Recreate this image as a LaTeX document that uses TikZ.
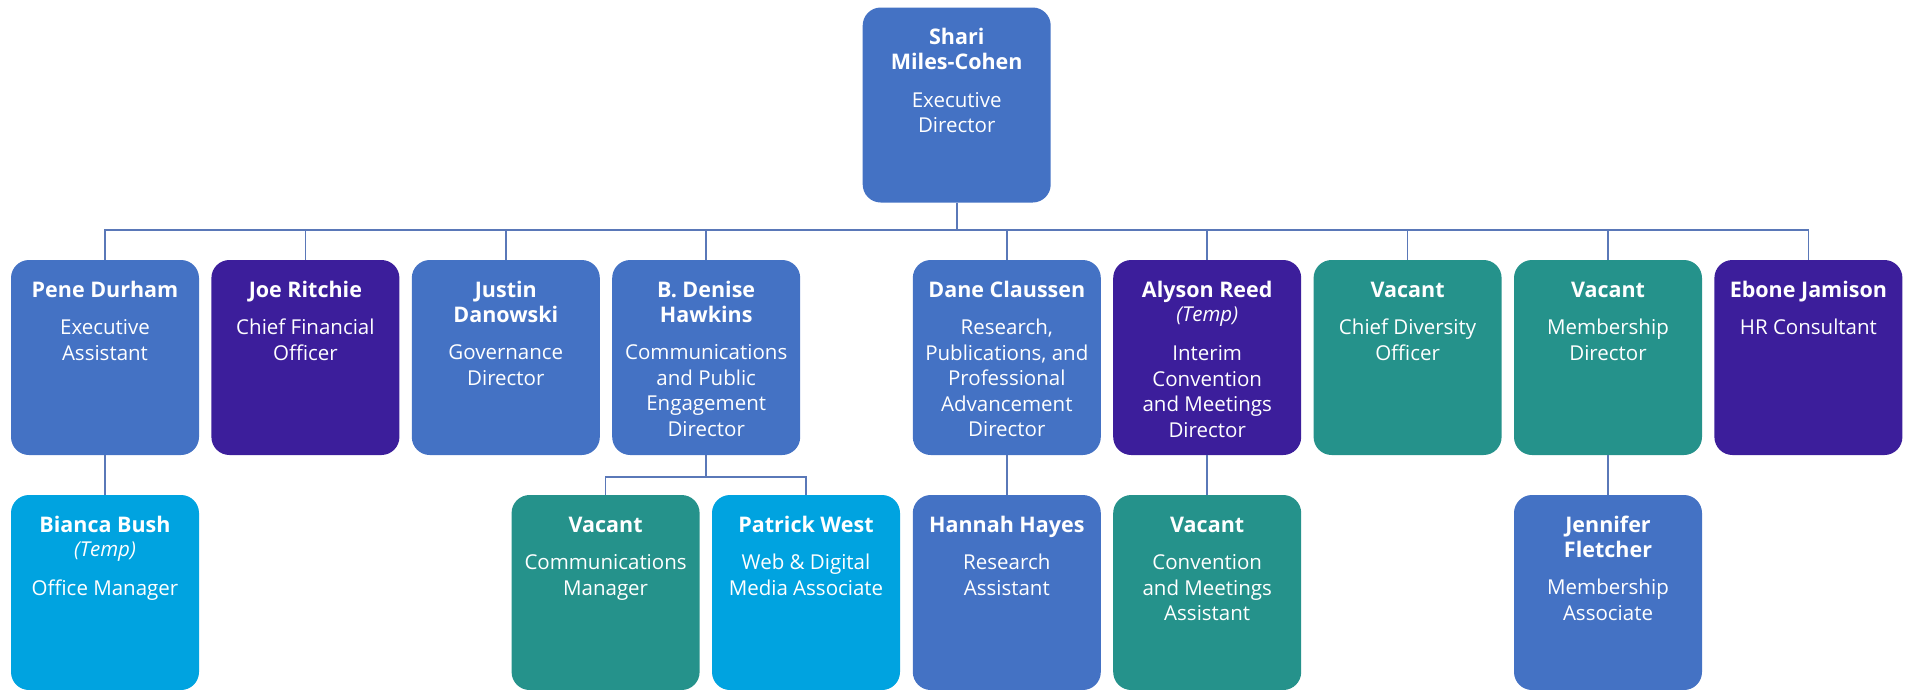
\documentclass[tikz,border=0pt]{standalone}
\usepackage{fontspec}
\setmainfont{Open Sans}
\definecolor{cBlue}{HTML}{4472C4}
\definecolor{cPurple}{HTML}{3C1E9B}
\definecolor{cTeal}{HTML}{25928B}
\definecolor{cLight}{HTML}{00A3E0}
\definecolor{lineC}{HTML}{5A78B8}
\tikzset{
  orgbox/.style={rounded corners=18pt, inner sep=0pt, minimum width=188pt, minimum height=195pt, text=white},
  conn/.style={draw=lineC, line width=1.6pt}
}
\newcommand{\card}[2]{\parbox[c][195pt][t]{188pt}{\centering\vspace*{19.5pt}%
  \fontsize{21.5}{25}\selectfont\bfseries\strut #1\par\vspace{12pt}%
  \fontsize{20.5}{25.5}\selectfont\mdseries #2\par}}
\newcommand{\cardtemp}[2]{\parbox[c][195pt][t]{188pt}{\centering\vspace*{19.5pt}%
  \fontsize{21.5}{25}\selectfont\bfseries\strut #1\par
  \fontsize{20.5}{24}\selectfont\mdseries\itshape (Temp)\par\vspace{14pt}%
  \fontsize{20.5}{25.5}\selectfont\upshape #2\par}}
\begin{document}
\begin{tikzpicture}[x=1pt,y=-1pt]
\useasboundingbox (0,0) rectangle (1911,689);
% top
\node[orgbox, fill=cBlue] (ed) at (956.7,105) {\card{Shari\\Miles-Cohen}{Executive\\Director}};
% row 1
\node[orgbox, fill=cBlue]   (pene)   at (105,357.5)    {\card{Pene Durham}{Executive\\Assistant}};
\node[orgbox, fill=cPurple] (joe)    at (305.4,357.5)  {\card{Joe Ritchie}{Chief Financial\\Officer}};
\node[orgbox, fill=cBlue]   (justin) at (505.8,357.5)  {\card{Justin\\Danowski}{Governance\\Director}};
\node[orgbox, fill=cBlue]   (denise) at (706.2,357.5)  {\card{B. Denise\\Hawkins}{Communications\\and Public\\Engagement\\Director}};
\node[orgbox, fill=cBlue]   (dane)   at (1006.8,357.5) {\card{Dane Claussen}{Research,\\Publications, and\\Professional\\Advancement\\Director}};
\node[orgbox, fill=cPurple] (alyson) at (1207.2,357.5) {\cardtemp{Alyson Reed}{Interim\\Convention\\and Meetings\\Director}};
\node[orgbox, fill=cTeal]   (cdo)    at (1407.6,357.5) {\card{Vacant}{Chief Diversity\\Officer}};
\node[orgbox, fill=cTeal]   (memdir) at (1608,357.5)   {\card{Vacant}{Membership\\Director}};
\node[orgbox, fill=cPurple] (ebone)  at (1808.4,357.5) {\card{Ebone Jamison}{HR Consultant}};
% row 2
\node[orgbox, fill=cLight]  (bianca)  at (105,592.5)    {\cardtemp{Bianca Bush}{Office Manager}};
\node[orgbox, fill=cTeal]   (commgr)  at (605.6,592.5)  {\card{Vacant}{Communications\\Manager}};
\node[orgbox, fill=cLight]  (patrick) at (806,592.5)    {\card{Patrick West}{Web \& Digital\\Media Associate}};
\node[orgbox, fill=cBlue]   (hannah)  at (1006.8,592.5) {\card{Hannah Hayes}{Research\\Assistant}};
\node[orgbox, fill=cTeal]   (convas)  at (1207.2,592.5) {\card{Vacant}{Convention\\and Meetings\\Assistant}};
\node[orgbox, fill=cBlue]   (jenn)    at (1608,592.5)   {\card{Jennifer\\Fletcher}{Membership\\Associate}};
% connectors
\coordinate (bus) at (0,230);
\coordinate (bus2) at (0,477);
\draw[conn] (ed.south) -- (ed.south |- bus);
\draw[conn] (pene.north) -- (pene.north |- bus) -- (ebone.north |- bus) -- (ebone.north);
\foreach \n in {joe,justin,denise,dane,alyson,cdo,memdir}{
  \draw[conn] (\n.north) -- (\n.north |- bus);
}
\draw[conn] (pene.south) -- (bianca.north);
\draw[conn] (denise.south) -- (denise.south |- bus2);
\draw[conn] (commgr.north) -- (commgr.north |- bus2) -- (patrick.north |- bus2) -- (patrick.north);
\draw[conn] (dane.south) -- (hannah.north);
\draw[conn] (alyson.south) -- (convas.north);
\draw[conn] (memdir.south) -- (jenn.north);
\end{tikzpicture}
\end{document}
